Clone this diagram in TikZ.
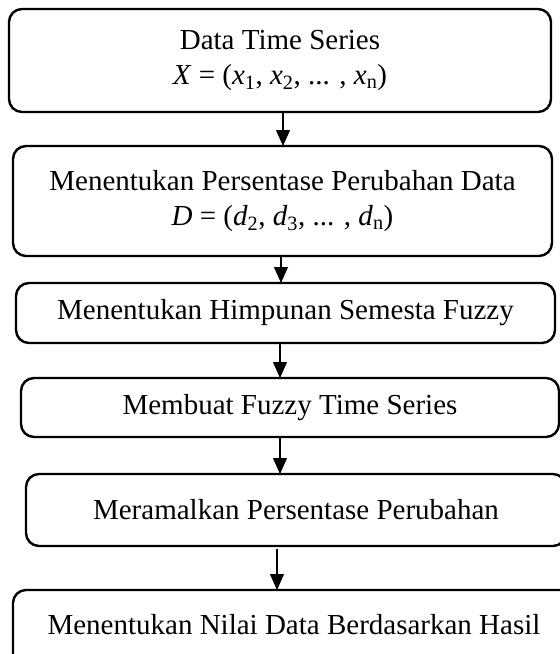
\documentclass[tikz,border=0pt]{standalone}
\usepackage{fontspec}
\setmainfont{Liberation Serif}
\usetikzlibrary{arrows.meta}
\tikzset{
  box/.style={draw, line width=2.4pt, rounded corners=13pt, align=center, inner sep=0pt, outer sep=0pt,
    font=\fontsize{29}{35}\selectfont},
  arr/.style={line width=1.1pt, -{Triangle[width=14pt,length=16pt]}}
}
\begin{document}
\begin{tikzpicture}[x=1pt,y=-1pt]
\useasboundingbox (0,0) rectangle (560,654);
\clip (0,0) rectangle (560,654);
\node[box, minimum width=542pt, minimum height=103pt] (b1) at (280,60.5)
  {Data Time Series\\\textit{X} = (\textit{x}\textsubscript{1}, \textit{x}\textsubscript{2}, ... , \textit{x}\textsubscript{n})};
\node[box, minimum width=539pt, minimum height=110pt] (b2) at (282.5,201)
  {Menentukan Persentase Perubahan Data\\\textit{D} = (\textit{d}\textsubscript{2}, \textit{d}\textsubscript{3}, ... , \textit{d}\textsubscript{n})};
\node[box, minimum width=539pt, minimum height=60pt] (b3) at (285.5,313)
  {Menentukan Himpunan Semesta Fuzzy};
\node[box, minimum width=538pt, minimum height=59pt] (b4) at (290,407.5)
  {Membuat Fuzzy Time Series};
\node[box, minimum width=540pt, minimum height=72pt] (b5) at (296,510)
  {Meramalkan Persentase Perubahan};
\node[box, minimum width=562pt, minimum height=90pt, text depth=22pt] (b6) at (294,635)
  {Menentukan Nilai Data Berdasarkan Hasil};
\draw[arr] ([xshift=3pt]b1.south) -- ([xshift=0.5pt]b2.north);
\draw[arr] ([xshift=-1.5pt]b2.south) -- ([xshift=-4.5pt]b3.north);
\draw[arr] ([xshift=-5.5pt]b3.south) -- ([xshift=-10pt]b4.north);
\draw[arr] ([xshift=-10pt]b4.south) -- ([xshift=-16pt]b5.north);
\draw[arr] ([xshift=-19pt,yshift=-3pt]b5.south) -- ([xshift=-17pt]b6.north);
\end{tikzpicture}
\end{document}
